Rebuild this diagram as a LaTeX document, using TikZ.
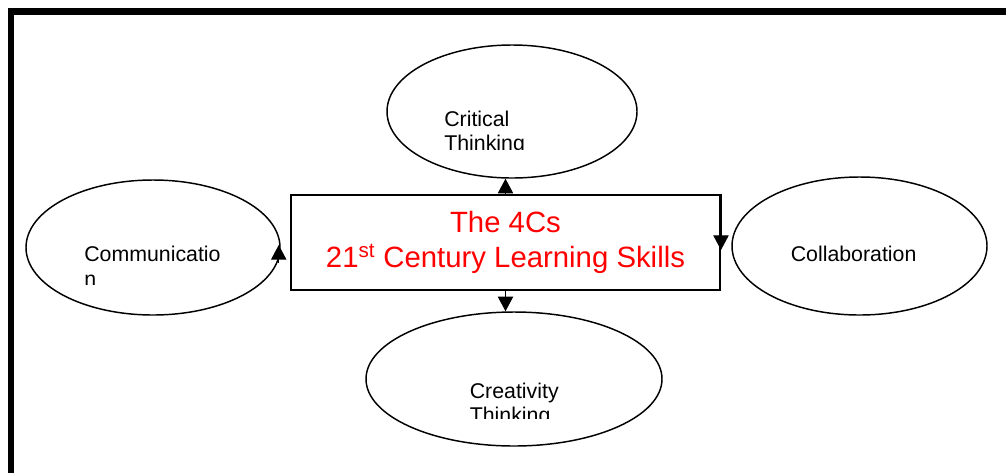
\documentclass[tikz,border=0pt]{standalone}
\usepackage{fontspec}
\setmainfont{Liberation Sans}
\usetikzlibrary{shapes.geometric,arrows.meta,calc}
\tikzset{
  bubble/.style={draw, ellipse, line width=1.1pt, inner sep=0pt},
  lbl/.style={inner sep=0pt, align=left, font=\fontsize{16pt}{17.25pt}\selectfont},
  arr/.style={-{Triangle[length=11pt,width=11.5pt]}, line width=0.9pt}
}
\begin{document}
\begin{tikzpicture}[x=0.75pt,y=0.75pt,yscale=-1,xscale=1]
\clip (0,0) rectangle (1006,472);
\draw[line width=5pt] (11,11.5) rectangle (1030,500);
\node[bubble, minimum width=187.5pt, minimum height=99.75pt] (crit) at (512,111.5) {};
\node[bubble, minimum width=190.5pt, minimum height=101.25pt] (comm) at (153,247.5) {};
\node[bubble, minimum width=191.25pt, minimum height=103.5pt] (coll) at (859.5,246) {};
\node[bubble, minimum width=222pt, minimum height=100.5pt] (crea) at (514,379) {};
\node[draw, line width=1.5pt, minimum width=321.75pt, minimum height=71.25pt, inner sep=0pt,
      text=red, align=center, font=\fontsize{22pt}{26pt}\selectfont] (box) at (505.5,242.5)
      {The 4Cs\\21\textsuperscript{st} Century Learning Skills};
\begin{scope}
\clip (380,60) rectangle (640,149.3);
\node[lbl, anchor=north west] (critlbl) at (444,110.5) {Critical\\[0.75pt]Thinking};
\end{scope}
\begin{scope}
\clip (40,200) rectangle (270,284.5);
\node[lbl, anchor=north west] (commlbl) at (84,246) {Communicatio\\[1.5pt]n};
\end{scope}
\begin{scope}
\clip (380,330) rectangle (650,418.5);
\node[lbl, anchor=north west] (crealbl) at (469.5,382.7) {Creativity\\[0.75pt]Thinking};
\end{scope}
\node[lbl, anchor=base west] (colllbl) at (790.5,261) {Collaboration};
\draw[arr] (box.north) -- (box.north |- crit.south);
\draw[arr] (box.south) -- (box.south |- crea.north);
\draw[arr] (box.north east) -- ($(box.east)+(0,7.5)$);
\draw[arr] ($(comm.east)+(-2,15)$) -- ($(comm.east)+(-2,-2.5)$);
\end{tikzpicture}
\end{document}
